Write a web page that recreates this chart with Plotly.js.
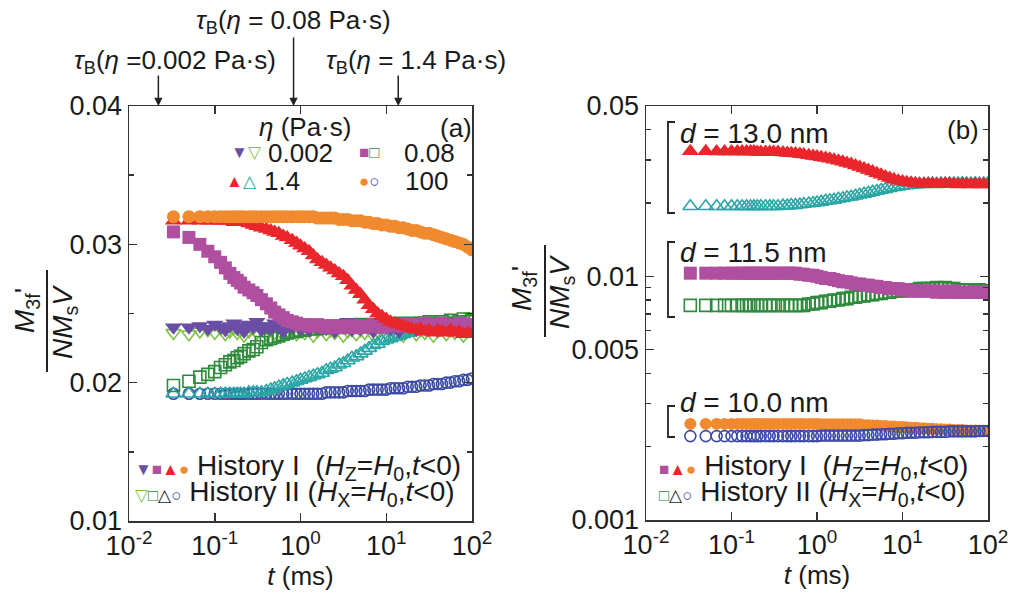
<!DOCTYPE html>
<html>
<head>
<meta charset="utf-8">
<script src="https://cdn.plot.ly/plotly-3.0.1.min.js"></script>
<style>html,body{margin:0;padding:0;background:#fff;}#plot{width:1029px;height:595px;}</style>
</head>
<body>
<div id="plot"></div>
<script>
// ---- time axis (ms), shared by all series ----
const T = [0.033, 0.05, 0.067, 0.083, 0.1, 0.117, 0.133, 0.15, 0.167, 0.183,
  0.2, 0.22, 0.25, 0.28, 0.31, 0.35, 0.4, 0.45, 0.5, 0.56,
  0.63, 0.7, 0.8, 0.9, 1.0, 1.12, 1.26, 1.41, 1.58, 1.78,
  2.0, 2.24, 2.51, 2.82, 3.16, 3.55, 3.98, 4.47, 5.01, 5.62,
  6.31, 7.08, 7.94, 8.91, 10, 11.2, 12.6, 14.1, 15.8, 17.8,
  20, 22.4, 25.1, 28.2, 31.6, 35.5, 39.8, 44.7, 50.1, 56.2,
  63.1, 70.8, 79.4, 89.1, 100];

// ---- panel (a): eta series, History I (filled) and History II (open) ----
const a_eta0002_I = [0.0240, 0.0240, 0.0241, 0.0239, 0.0242, 0.0240, 0.0238, 0.0241, 0.0243, 0.0239,
  0.0241, 0.0237, 0.0242, 0.0240, 0.0244, 0.0238, 0.0241, 0.0239, 0.0243, 0.0240,
  0.0237, 0.0242, 0.0240, 0.0244, 0.0239, 0.0241, 0.0238, 0.0242, 0.0240, 0.0243,
  0.0239, 0.0241, 0.0237, 0.0242, 0.0240, 0.0244, 0.0238, 0.0241, 0.0239, 0.0243,
  0.0240, 0.0237, 0.0242, 0.0241, 0.0244, 0.0239, 0.0240, 0.0237, 0.0242, 0.0241,
  0.0243, 0.0238, 0.0241, 0.0239, 0.0243, 0.0240, 0.0238, 0.0242, 0.0240, 0.0244,
  0.0239, 0.0241, 0.0238, 0.0242, 0.0240];
const a_eta0002_II = [0.0236, 0.0235, 0.0237, 0.0238, 0.0236, 0.0239, 0.0235, 0.0237, 0.0240, 0.0236,
  0.0238, 0.0234, 0.0237, 0.0239, 0.0236, 0.0241, 0.0235, 0.0238, 0.0236, 0.0240,
  0.0234, 0.0237, 0.0239, 0.0235, 0.0238, 0.0236, 0.0240, 0.0234, 0.0237, 0.0239,
  0.0235, 0.0238, 0.0236, 0.0241, 0.0234, 0.0237, 0.0239, 0.0235, 0.0238, 0.0236,
  0.0240, 0.0234, 0.0237, 0.0239, 0.0235, 0.0238, 0.0236, 0.0241, 0.0234, 0.0237,
  0.0239, 0.0235, 0.0238, 0.0236, 0.0240, 0.0234, 0.0237, 0.0239, 0.0235, 0.0238,
  0.0236, 0.0241, 0.0234, 0.0237, 0.0248];
const a_eta008_I = [0.0309, 0.0305, 0.0300, 0.0295, 0.0291, 0.0287, 0.0283, 0.0279, 0.0276, 0.0274,
  0.0272, 0.0269, 0.0267, 0.0265, 0.0263, 0.0260, 0.0257, 0.0254, 0.0251, 0.0249,
  0.0247, 0.0245, 0.0244, 0.0243, 0.0242, 0.0242, 0.0241, 0.0241, 0.0242, 0.0241,
  0.0240, 0.0241, 0.0240, 0.0241, 0.0240, 0.0240, 0.0241, 0.0240, 0.0241, 0.0240,
  0.0241, 0.0242, 0.0241, 0.0240, 0.0241, 0.0242, 0.0241, 0.0242, 0.0241, 0.0242,
  0.0242, 0.0241, 0.0242, 0.0243, 0.0242, 0.0241, 0.0242, 0.0243, 0.0242, 0.0241,
  0.0242, 0.0243, 0.0242, 0.0241, 0.0242];
const a_eta008_II = [0.0198, 0.0201, 0.0204, 0.0206, 0.0208, 0.0211, 0.0213, 0.0215, 0.0216, 0.0218,
  0.0219, 0.0221, 0.0223, 0.0224, 0.0226, 0.0229, 0.0231, 0.0232, 0.0233, 0.0234,
  0.0235, 0.0236, 0.0237, 0.0237, 0.0238, 0.0238, 0.0239, 0.0239, 0.0239, 0.0240,
  0.0240, 0.0240, 0.0241, 0.0240, 0.0241, 0.0241, 0.0240, 0.0241, 0.0242, 0.0241,
  0.0241, 0.0242, 0.0241, 0.0242, 0.0242, 0.0241, 0.0242, 0.0243, 0.0242, 0.0242,
  0.0243, 0.0242, 0.0243, 0.0243, 0.0244, 0.0243, 0.0242, 0.0244, 0.0243, 0.0245,
  0.0243, 0.0244, 0.0246, 0.0244, 0.0245];
const a_eta14_I = [0.0317, 0.0317, 0.0317, 0.0317, 0.0317, 0.0317, 0.0317, 0.0317, 0.0316, 0.0316,
  0.0316, 0.0316, 0.0315, 0.0314, 0.0313, 0.0312, 0.0311, 0.0310, 0.0309, 0.0308,
  0.0306, 0.0305, 0.0303, 0.0301, 0.0299, 0.0297, 0.0295, 0.0292, 0.0289, 0.0287,
  0.0285, 0.0283, 0.0281, 0.0279, 0.0277, 0.0274, 0.0270, 0.0267, 0.0264, 0.0260,
  0.0256, 0.0253, 0.0250, 0.0248, 0.0246, 0.0244, 0.0243, 0.0242, 0.0241, 0.0240,
  0.0239, 0.0238, 0.0239, 0.0237, 0.0238, 0.0236, 0.0238, 0.0237, 0.0236, 0.0238,
  0.0236, 0.0237, 0.0235, 0.0236, 0.0235];
const a_eta14_II = [0.0192, 0.0192, 0.0192, 0.0192, 0.0192, 0.0192, 0.0192, 0.0192, 0.0192, 0.0192,
  0.0192, 0.0192, 0.0193, 0.0193, 0.0193, 0.0193, 0.0194, 0.0195, 0.0196, 0.0197,
  0.0198, 0.0199, 0.0200, 0.0201, 0.0202, 0.0203, 0.0204, 0.0205, 0.0206, 0.0207,
  0.0209, 0.0210, 0.0211, 0.0213, 0.0214, 0.0216, 0.0218, 0.0219, 0.0221, 0.0223,
  0.0225, 0.0227, 0.0228, 0.0230, 0.0231, 0.0232, 0.0233, 0.0234, 0.0235, 0.0236,
  0.0237, 0.0237, 0.0238, 0.0238, 0.0239, 0.0238, 0.0239, 0.0240, 0.0239, 0.0240,
  0.0240, 0.0241, 0.0240, 0.0241, 0.0241];
const a_eta100_I = [0.0320, 0.0320, 0.0320, 0.0320, 0.0320, 0.0320, 0.0320, 0.0320, 0.0320, 0.0320,
  0.0320, 0.0320, 0.0320, 0.0320, 0.0320, 0.0320, 0.0320, 0.0320, 0.0320, 0.0320,
  0.0320, 0.0320, 0.0320, 0.0320, 0.0320, 0.0320, 0.0320, 0.0320, 0.0319, 0.0319,
  0.0319, 0.0319, 0.0319, 0.0318, 0.0318, 0.0318, 0.0317, 0.0317, 0.0317, 0.0316,
  0.0316, 0.0315, 0.0315, 0.0314, 0.0314, 0.0313, 0.0313, 0.0312, 0.0312, 0.0311,
  0.0310, 0.0310, 0.0309, 0.0308, 0.0308, 0.0307, 0.0306, 0.0305, 0.0304, 0.0303,
  0.0302, 0.0301, 0.0300, 0.0298, 0.0296];
const a_eta100_II = [0.0192, 0.0192, 0.0192, 0.0192, 0.0192, 0.0192, 0.0192, 0.0192, 0.0192, 0.0192,
  0.0192, 0.0192, 0.0192, 0.0192, 0.0192, 0.0192, 0.0192, 0.0192, 0.0192, 0.0192,
  0.0192, 0.0192, 0.0192, 0.0192, 0.0192, 0.0192, 0.0192, 0.0192, 0.0192, 0.0192,
  0.0193, 0.0193, 0.0193, 0.0193, 0.0193, 0.0194, 0.0194, 0.0194, 0.0194, 0.0194,
  0.0195, 0.0195, 0.0195, 0.0195, 0.0195, 0.0196, 0.0196, 0.0196, 0.0196, 0.0197,
  0.0197, 0.0197, 0.0198, 0.0198, 0.0198, 0.0199, 0.0199, 0.0199, 0.0200, 0.0200,
  0.0201, 0.0201, 0.0202, 0.0202, 0.0203];

// ---- panel (b): particle diameter series ----
const b_d130_I = [0.0326, 0.0326, 0.0325, 0.0325, 0.0325, 0.0325, 0.0325, 0.0325, 0.0325, 0.0325,
  0.0324, 0.0324, 0.0324, 0.0324, 0.0324, 0.0324, 0.0322, 0.0321, 0.0320, 0.0319,
  0.0318, 0.0316, 0.0314, 0.0312, 0.0310, 0.0308, 0.0306, 0.0304, 0.0301, 0.0298,
  0.0295, 0.0292, 0.0289, 0.0285, 0.0281, 0.0277, 0.0273, 0.0269, 0.0265, 0.0261,
  0.0257, 0.0253, 0.0250, 0.0247, 0.0245, 0.0243, 0.0242, 0.0241, 0.0240, 0.0240,
  0.0239, 0.0240, 0.0239, 0.0239, 0.0240, 0.0239, 0.0239, 0.0238, 0.0239, 0.0239,
  0.0238, 0.0239, 0.0238, 0.0239, 0.0238];
const b_d130_II = [0.0194, 0.0194, 0.0194, 0.0194, 0.0194, 0.0194, 0.0194, 0.0194, 0.0194, 0.0194,
  0.0194, 0.0194, 0.0194, 0.0194, 0.0194, 0.0194, 0.0195, 0.0195, 0.0196, 0.0196,
  0.0197, 0.0198, 0.0199, 0.0200, 0.0201, 0.0202, 0.0204, 0.0205, 0.0206, 0.0208,
  0.0209, 0.0211, 0.0212, 0.0214, 0.0216, 0.0218, 0.0220, 0.0222, 0.0224, 0.0226,
  0.0228, 0.0230, 0.0232, 0.0233, 0.0235, 0.0236, 0.0237, 0.0238, 0.0239, 0.0239,
  0.0240, 0.0240, 0.0239, 0.0240, 0.0240, 0.0241, 0.0240, 0.0240, 0.0241, 0.0240,
  0.0240, 0.0241, 0.0240, 0.0240, 0.0241];
const b_d115_I = [0.0103, 0.0103, 0.0103, 0.0103, 0.0103, 0.0103, 0.0103, 0.0103, 0.0103, 0.0103,
  0.0103, 0.0103, 0.0103, 0.0103, 0.0103, 0.0103, 0.0103, 0.0103, 0.0103, 0.0103,
  0.0102, 0.0102, 0.0101, 0.0101, 0.0100, 0.0099, 0.0098, 0.0098, 0.0097, 0.0096,
  0.0095, 0.0095, 0.0094, 0.0093, 0.0093, 0.0092, 0.0092, 0.0091, 0.0091, 0.0090,
  0.0090, 0.0089, 0.0089, 0.0089, 0.0088, 0.0088, 0.0087, 0.0087, 0.0087, 0.0087,
  0.0087, 0.0087, 0.0086, 0.0087, 0.0086, 0.0086, 0.0087, 0.0086, 0.0086, 0.0086,
  0.0086, 0.0086, 0.0086, 0.0086, 0.0086];
const b_d115_II = [0.0076, 0.0076, 0.0076, 0.0076, 0.0076, 0.0076, 0.0076, 0.0076, 0.0076, 0.0076,
  0.0076, 0.0076, 0.0076, 0.0076, 0.0076, 0.0076, 0.0076, 0.0076, 0.0076, 0.0076,
  0.0076, 0.0076, 0.0077, 0.0077, 0.0078, 0.0078, 0.0079, 0.0079, 0.0080, 0.0080,
  0.0081, 0.0081, 0.0082, 0.0082, 0.0083, 0.0083, 0.0084, 0.0084, 0.0085, 0.0085,
  0.0086, 0.0086, 0.0087, 0.0087, 0.0087, 0.0088, 0.0088, 0.0088, 0.0089, 0.0089,
  0.0089, 0.0089, 0.0090, 0.0089, 0.0090, 0.0089, 0.0089, 0.0088, 0.0088, 0.0088,
  0.0088, 0.0087, 0.0088, 0.0087, 0.0087];
const b_d100_I = [0.00248, 0.00248, 0.00248, 0.00248, 0.00248, 0.00248, 0.00248, 0.00248, 0.00248, 0.00248,
  0.00248, 0.00248, 0.00248, 0.00248, 0.00248, 0.00248, 0.00248, 0.00248, 0.00248, 0.00248,
  0.00248, 0.00248, 0.00248, 0.00248, 0.00248, 0.00247, 0.00247, 0.00247, 0.00247, 0.00247,
  0.00247, 0.00247, 0.00247, 0.00247, 0.00247, 0.00245, 0.00245, 0.00244, 0.00244, 0.00243,
  0.00243, 0.00242, 0.00242, 0.00241, 0.00241, 0.00240, 0.00239, 0.00239, 0.00238, 0.00238,
  0.00237, 0.00237, 0.00236, 0.00236, 0.00235, 0.00235, 0.00234, 0.00234, 0.00234, 0.00233,
  0.00233, 0.00233, 0.00232, 0.00232, 0.00232];
const b_d100_II = [0.00221, 0.00221, 0.00221, 0.00221, 0.00221, 0.00221, 0.00221, 0.00221, 0.00221, 0.00221,
  0.00221, 0.00221, 0.00221, 0.00221, 0.00221, 0.00221, 0.00221, 0.00221, 0.00221, 0.00221,
  0.00221, 0.00221, 0.00221, 0.00221, 0.00221, 0.00222, 0.00222, 0.00222, 0.00222, 0.00222,
  0.00222, 0.00222, 0.00222, 0.00222, 0.00222, 0.00223, 0.00223, 0.00224, 0.00224, 0.00225,
  0.00225, 0.00226, 0.00226, 0.00227, 0.00227, 0.00228, 0.00228, 0.00228, 0.00229, 0.00229,
  0.00229, 0.00230, 0.00230, 0.00230, 0.00230, 0.00231, 0.00231, 0.00231, 0.00231, 0.00231,
  0.00231, 0.00231, 0.00232, 0.00232, 0.00232];

// Brownian relaxation times marked by arrows (ms)
const tauB = [0.022, 0.83, 13.8];
const tauLabels = ['0.002', '0.08', '1.4'];

// tick labels
const xTicks = [0.01, 0.1, 1, 10, 100];
const xTickText = ['10<sup>-2</sup>', '10<sup>-1</sup>', '10<sup>0</sup>', '10<sup>1</sup>', '10<sup>2</sup>'];
const aYTicks = [0.01, 0.02, 0.03, 0.04];
const bYTicks = [0.001, 0.005, 0.01, 0.05];
const bYTickText = ['0.001', '0.005', '0.01', '0.05'];
const bYMinor = [0.002, 0.003, 0.004, 0.006, 0.007, 0.008, 0.009, 0.02, 0.03, 0.04];

// ---- styles ----
const C = {
  purple: '#6a4ea6', lgreen: '#7cc142', magenta: '#b04fa0', dgreen: '#2e8b3c',
  red: '#e8262b', teal: '#2aa6a6', orange: '#f18a2f', blue: '#3b4aa4'
};
const FONT = 'Liberation Sans, Arial, sans-serif';
const W = 1029, H = 595;
const px = x => x / W;
const py = y => 1 - y / H;

function tr(y, symbol, color, size, xa, ya, open) {
  return {
    x: T, y: y, type: 'scatter', mode: 'markers', xaxis: xa, yaxis: ya,
    showlegend: false, hoverinfo: 'skip',
    marker: open
      ? {symbol: symbol, size: size, color: color, line: {color: color, width: 1.6}}
      : {symbol: symbol, size: size, color: color, line: {width: 0}}
  };
}

const data = [
  tr(a_eta0002_II, 'triangle-down-open', C.lgreen, 13, 'x', 'y', true),
  tr(a_eta100_II, 'circle-open', C.blue, 11, 'x', 'y', true),
  tr(a_eta14_II, 'triangle-up-open', C.teal, 13, 'x', 'y', true),
  tr(a_eta008_II, 'square-open', C.dgreen, 12, 'x', 'y', true),
  tr(a_eta0002_I, 'triangle-down', C.purple, 15, 'x', 'y', false),
  tr(a_eta008_I, 'square', C.magenta, 13, 'x', 'y', false),
  tr(a_eta14_I, 'triangle-up', C.red, 15, 'x', 'y', false),
  tr(a_eta100_I, 'circle', C.orange, 13, 'x', 'y', false),

  tr(b_d130_II, 'triangle-up-open', C.teal, 13, 'x2', 'y2', true),
  tr(b_d130_I, 'triangle-up', C.red, 15, 'x2', 'y2', false),
  tr(b_d115_II, 'square-open', C.dgreen, 12, 'x2', 'y2', true),
  tr(b_d115_I, 'square', C.magenta, 13, 'x2', 'y2', false),
  tr(b_d100_I, 'circle', C.orange, 12, 'x2', 'y2', false),
  tr(b_d100_II, 'circle-open', C.blue, 11, 'x2', 'y2', true)
];

const axBase = {
  showline: true, linecolor: '#333', linewidth: 1.5, mirror: 'ticks',
  ticks: 'inside', ticklen: 8, tickwidth: 1.5, tickcolor: '#333',
  showgrid: false, zeroline: false,
  tickfont: {family: FONT, size: 27, color: '#1a1a1a'}
};
const xBase = Object.assign({}, axBase, {
  type: 'log', range: [-2, 2], tickmode: 'array', tickvals: xTicks, ticktext: xTickText,
  title: {text: '<i>t</i> (ms)', font: {family: FONT, size: 26, color: '#1a1a1a'}, standoff: 4}
});

const sym = (c, s) => `<span style="color:${c};font-size:17px">${s}</span>`;
const tf = {family: FONT, size: 26, color: '#1a1a1a'};
const ann = (x, y, text, xa, extra) => Object.assign({
  xref: 'paper', yref: 'paper', x: px(x), y: py(y), text: text,
  showarrow: false, xanchor: xa || 'center', yanchor: 'middle', font: tf
}, extra || {});

const tauTxt = v => `<i>τ</i><sub>B</sub>(<i>η</i> ${v === '0.002' ? '=' : '= '}${v} Pa·s)`;
const histI = ' History I&nbsp;&nbsp;(<i>H</i><sub>Z</sub>=<i>H</i><sub>0</sub>,<i>t</i>&lt;0)';
const histII = ' History II (<i>H</i><sub>X</sub>=<i>H</i><sub>0</sub>,<i>t</i>&lt;0)';
const big = {family: FONT, size: 28, color: '#1a1a1a'};

const annotations = [
  // tau_B labels and arrows
  ann(293, 22, tauTxt(tauLabels[1])),
  ann(175, 62, tauTxt(tauLabels[0])),
  ann(416, 62, tauTxt(tauLabels[2])),
  ...tauB.map((t, i) => ({
    xref: 'x', yref: 'paper', x: Math.log10(t), y: py(106), text: '',
    showarrow: true, arrowhead: 2, arrowsize: 1.1, arrowwidth: 1.5, arrowcolor: '#222',
    ax: 0, ay: i === 1 ? -70 : -32
  })),
  // panel (a) legend
  ann(305, 127, '<i>η</i> (Pa·s)'),
  ann(456, 128, '(a)'),
  ann(264, 153, sym(C.purple, '▼') + sym(C.lgreen, '▽'), 'right'),
  ann(266, 153, '0.002', 'left'),
  ann(382, 153, sym(C.magenta, '■') + sym(C.dgreen, '□'), 'right'),
  ann(402, 153, '0.08', 'left'),
  ann(259, 181, sym(C.red, '▲') + sym(C.teal, '△'), 'right'),
  ann(262, 181, '1.4', 'left'),
  ann(382, 181, sym(C.orange, '●') + sym(C.blue, '○'), 'right'),
  ann(403, 181, '100', 'left'),
  ann(133, 467, sym(C.purple, '▼') + sym(C.magenta, '■') + sym(C.red, '▲') + sym(C.orange, '●') + histI, 'left', {font: big}),
  ann(133, 493, sym(C.lgreen, '▽') + sym(C.dgreen, '□') + sym('#222', '△') + sym(C.blue, '○') + histII, 'left', {font: big}),
  // panel (b) labels
  ann(963, 130, '(b)'),
  ann(678, 133, '<i>d</i> = 13.0 nm', 'left', {font: big}),
  ann(678, 252, '<i>d</i> = 11.5 nm', 'left', {font: big}),
  ann(678, 402, '<i>d</i> = 10.0 nm', 'left', {font: big}),
  ann(657, 467, sym(C.magenta, '■') + sym(C.red, '▲') + sym(C.orange, '●') + histI, 'left', {font: big}),
  ann(657, 493, sym(C.dgreen, '□') + sym('#222', '△') + sym(C.blue, '○') + histII, 'left', {font: big}),
  // y-axis fraction titles
  ann(26, 311, "<i>M</i><sub>3f</sub>'", 'center', {textangle: -90, font: big}),
  ann(64, 322, '<i>NM</i><sub>s</sub><i>V</i>', 'center', {textangle: -90, font: big}),
  ann(523, 289, "<i>M</i><sub>3f</sub>'", 'center', {textangle: -90, font: big}),
  ann(561, 292, '<i>NM</i><sub>s</sub><i>V</i>', 'center', {textangle: -90, font: big})
];

const bracket = (x0, y0, y1) => ({
  type: 'path', xref: 'paper', yref: 'paper',
  path: `M ${px(x0 + 7)} ${py(y0)} L ${px(x0)} ${py(y0)} L ${px(x0)} ${py(y1)} L ${px(x0 + 7)} ${py(y1)}`,
  line: {color: '#222', width: 1.8}
});
const shapes = [
  {type: 'line', xref: 'paper', yref: 'paper', x0: px(47), x1: px(47), y0: py(270), y1: py(372), line: {color: '#222', width: 2}},
  {type: 'line', xref: 'paper', yref: 'paper', x0: px(545), x1: px(545), y0: py(245), y1: py(337), line: {color: '#222', width: 2}},
  bracket(668, 122, 213),
  bracket(668, 242, 317),
  bracket(668, 406, 437)
];

const layout = {
  width: W, height: H,
  margin: {l: 0, r: 0, t: 0, b: 0},
  paper_bgcolor: '#fff', plot_bgcolor: '#fff',
  font: {family: FONT, color: '#1a1a1a'},
  xaxis: Object.assign({}, xBase, {domain: [px(129), px(472)], anchor: 'y'}),
  yaxis: Object.assign({}, axBase, {
    domain: [py(521), py(106)], anchor: 'x', range: [0.01, 0.04],
    tickmode: 'array', tickvals: aYTicks, tickformat: '.2f',
    minor: {dtick: 0.005, ticks: 'inside', ticklen: 5, tickwidth: 1.5, tickcolor: '#333'}
  }),
  xaxis2: Object.assign({}, xBase, {domain: [px(646), px(988)], anchor: 'y2'}),
  yaxis2: Object.assign({}, axBase, {
    domain: [py(520), py(106)], anchor: 'x2', type: 'log', range: [-3, Math.log10(0.05)],
    tickmode: 'array', tickvals: bYTicks, ticktext: bYTickText,
    minor: {tickmode: 'array', tickvals: bYMinor, ticks: 'inside', ticklen: 5, tickwidth: 1.5, tickcolor: '#333'}
  }),
  annotations: annotations,
  shapes: shapes
};

Plotly.newPlot('plot', data, layout, {staticPlot: true, displayModeBar: false});
</script>
</body>
</html>
